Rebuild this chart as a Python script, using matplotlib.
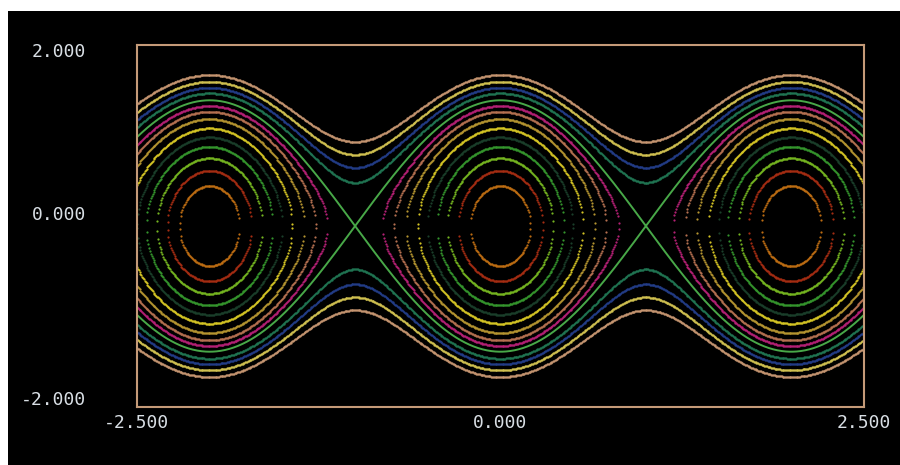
import numpy as np
import matplotlib
matplotlib.use("Agg")
import matplotlib.pyplot as plt
import matplotlib.transforms as mtransforms
from matplotlib.patches import Rectangle

# Pendel-Phasenportraet: Hoehe jeder Kurve bei x=0
K = 0.48
peak_y = [1.669, 1.594, 1.528, 1.466, 1.389, 1.326, 1.263, 1.182,
          1.079, 0.980, 0.876, 0.748, 0.611, 0.442]
curve_colors = ["#c49470", "#d0c050", "#223c86", "#207452", "#48a848",
                "#b42074", "#b47050", "#b49430", "#d4c424", "#1a3e2a",
                "#34942c", "#74b420", "#a42c12", "#bc6c12"]
separatrix_idx = 4

x_ticks = [-2.5, 0.0, 2.5]
x_tick_labels = ["-2.500", "0.000", "2.500"]
y_tick_labels = ["2.000", "0.000", "-2.000"]
y_label_pos = [0.9807, 0.5304, 0.0193]

fig = plt.figure(figsize=(9, 4.65), dpi=100)
fig.patch.set_facecolor("white")
fig.patches.append(Rectangle((8 / 900, 0), 892 / 900, 454 / 465,
                             transform=fig.transFigure, facecolor="black",
                             edgecolor="none", zorder=-10))

ax = fig.add_axes([137 / 900, 1 - 407 / 465, 727 / 900, 362 / 465])
ax.set_zorder(2)
ax.set_facecolor("black")
ax.set_xlim(-2.5, 2.5)
ax.set_ylim(-2, 2)

xs = np.arange(-2.5, 2.5001, 0.006)
for i, (p, c) in enumerate(zip(peak_y, curve_colors)):
    E = p ** 2 / 2 - K
    if i == separatrix_idx:
        y = p * np.abs(np.cos(np.pi * xs / 2))
        ax.plot(xs, y, color=c, lw=1.4)
        ax.plot(xs, -y, color=c, lw=1.4)
        continue
    y2 = 2 * (E + K * np.cos(np.pi * xs))
    ok = y2 >= 0
    y = np.sqrt(y2[ok])
    ax.plot(xs[ok], y, "o", color=c, ms=1.6, mew=0)
    ax.plot(xs[ok], -y, "o", color=c, ms=1.6, mew=0)

for s in ax.spines.values():
    s.set_color("#c49a78")
    s.set_linewidth(1.5)
ax.set_xticks([])
ax.set_yticks([])

txt_kw = dict(family="DejaVu Sans Mono", fontsize=13, color="#d8dee4")
trans = mtransforms.blended_transform_factory(ax.transData, ax.transAxes)
for xv, lab in zip(x_ticks, x_tick_labels):
    ax.text(xv, -0.044, lab, transform=trans, ha="center", va="center", **txt_kw)
for yv, lab in zip(y_label_pos, y_tick_labels):
    ax.text(-0.07, yv, lab, transform=ax.transAxes, ha="right", va="center", **txt_kw)

fig.savefig("out.png", dpi=100, facecolor=fig.get_facecolor())
